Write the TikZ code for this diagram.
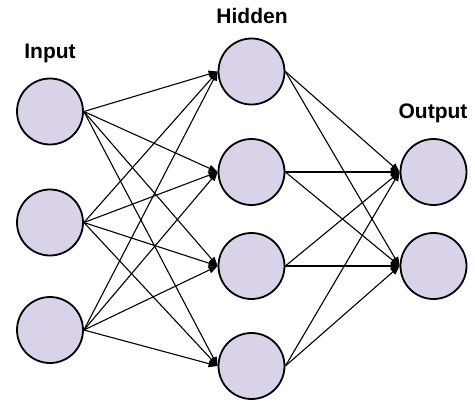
\documentclass[tikz,border=0pt]{standalone}
\usepackage{fontspec}
\setmainfont{Liberation Sans}
\usetikzlibrary{arrows.meta}
\definecolor{nodefill}{HTML}{D9D2E9}
\tikzset{
  neuron/.style={circle, draw=black, line width=1.8pt, fill=nodefill, minimum size=66pt, inner sep=0pt},
  conn/.style={line width=1.1pt, -{Triangle[length=9pt,width=7pt]}},
  layerlabel/.style={font=\fontsize{21}{24}\selectfont\bfseries, inner sep=0pt}
}
\begin{document}
\begin{tikzpicture}[x=1pt,y=-1pt]
\useasboundingbox (0,0) rectangle (475,408);
\node[neuron] (i1) at (50,111.5) {};
\node[neuron] (i2) at (50,222.5) {};
\node[neuron] (i3) at (50,330) {};
\node[neuron] (h1) at (251.5,71.5) {};
\node[neuron] (h2) at (251.5,172) {};
\node[neuron] (h3) at (251.5,266) {};
\node[neuron] (h4) at (251.5,366) {};
\node[neuron] (o1) at (433.5,172) {};
\node[neuron] (o2) at (433.5,266) {};
\node[layerlabel] (li) at (50,53) {Input};
\node[layerlabel] (lh) at (252,16) {Hidden};
\node[layerlabel] (lo) at (433,113) {Output};
\foreach \i in {i1,i2,i3}
  \foreach \h in {h1,h2,h3,h4}
    \draw[conn] (\i.east) -- (\h.west);
\foreach \h in {h1,h2,h3,h4}
  \foreach \o in {o1,o2}
    \draw[conn] (\h.east) -- (\o.west);
\end{tikzpicture}
\end{document}
